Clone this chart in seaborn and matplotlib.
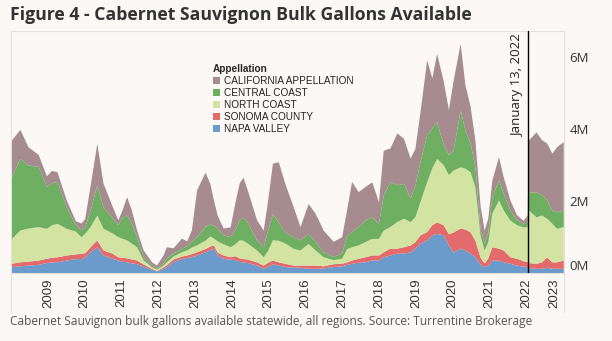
import matplotlib
matplotlib.use("Agg")
import matplotlib.pyplot as plt
import matplotlib.transforms as mtransforms
import seaborn as sns
import numpy as np

# ---- data (millions of gallons) ----
years = [2008.01, 2008.24, 2008.46, 2008.74, 2008.96, 2009.10, 2009.25, 2009.50, 2009.75, 2009.90,
         2010.00, 2010.15, 2010.33, 2010.50, 2010.75, 2010.90, 2011.00, 2011.14, 2011.27, 2011.41,
         2011.59, 2011.82, 2011.95, 2012.13, 2012.22, 2012.40, 2012.63, 2012.77, 2012.90, 2013.04,
         2013.27, 2013.40, 2013.50, 2013.60, 2013.76, 2013.95, 2014.08, 2014.20, 2014.30, 2014.42,
         2014.67, 2014.85, 2014.97, 2015.10, 2015.26, 2015.44, 2015.67, 2015.85, 2016.07, 2016.26,
         2016.48, 2016.75, 2016.98, 2017.12, 2017.25, 2017.43, 2017.61, 2017.80, 2017.98, 2018.11,
         2018.29, 2018.48, 2018.66, 2018.84, 2018.97, 2019.11, 2019.29, 2019.43, 2019.56, 2019.74,
         2019.88, 2020.01, 2020.20, 2020.33, 2020.47, 2020.60, 2020.74, 2020.85, 2020.95, 2021.06,
         2021.24, 2021.37, 2021.55, 2021.73, 2021.91, 2022.02, 2022.05, 2022.26, 2022.41, 2022.55,
         2022.69, 2022.82, 2023.00]

napa_valley = [0.18, 0.20, 0.22, 0.24, 0.29, 0.31, 0.31, 0.36, 0.40, 0.40,
               0.45, 0.59, 0.73, 0.50, 0.41, 0.36, 0.33, 0.31, 0.28, 0.26,
               0.19, 0.10, 0.06, 0.13, 0.17, 0.32, 0.40, 0.43, 0.45, 0.50,
               0.59, 0.65, 0.69, 0.50, 0.41, 0.38, 0.38, 0.32, 0.31, 0.29,
               0.22, 0.13, 0.19, 0.25, 0.22, 0.18, 0.16, 0.16, 0.13, 0.13,
               0.14, 0.18, 0.20, 0.24, 0.27, 0.30, 0.31, 0.36, 0.36, 0.45,
               0.50, 0.55, 0.55, 0.59, 0.69, 0.83, 0.92, 1.06, 1.10, 1.06,
               0.78, 0.58, 0.69, 0.64, 0.55, 0.45, 0.25, 0.18, 0.21, 0.36,
               0.36, 0.31, 0.27, 0.22, 0.19, 0.18, 0.14, 0.13, 0.13, 0.16,
               0.13, 0.13, 0.13]

sonoma_county = [0.09, 0.11, 0.11, 0.12, 0.12, 0.13, 0.14, 0.14, 0.13, 0.15,
                 0.11, 0.14, 0.19, 0.14, 0.14, 0.09, 0.11, 0.11, 0.11, 0.10,
                 0.06, 0.03, 0.01, 0.04, 0.06, 0.07, 0.07, 0.07, 0.09, 0.09,
                 0.09, 0.10, 0.09, 0.08, 0.09, 0.07, 0.10, 0.10, 0.09, 0.10,
                 0.09, 0.09, 0.11, 0.11, 0.09, 0.09, 0.06, 0.06, 0.09, 0.09,
                 0.06, 0.08, 0.07, 0.07, 0.09, 0.11, 0.14, 0.14, 0.14, 0.14,
                 0.19, 0.14, 0.18, 0.19, 0.18, 0.23, 0.23, 0.28, 0.32, 0.28,
                 0.31, 0.56, 0.56, 0.58, 0.59, 0.46, 0.19, 0.10, 0.21, 0.37,
                 0.33, 0.33, 0.18, 0.19, 0.15, 0.14, 0.15, 0.14, 0.18, 0.29,
                 0.18, 0.18, 0.23]

north_coast = [0.69, 0.88, 0.92, 0.93, 0.83, 0.90, 0.93, 0.74, 0.63, 0.46,
               0.54, 0.56, 0.69, 0.60, 0.56, 0.56, 0.53, 0.50, 0.44, 0.37,
               0.11, 0.04, 0.04, 0.05, 0.08, 0.08, 0.12, 0.14, 0.18, 0.19,
               0.23, 0.28, 0.19, 0.31, 0.31, 0.28, 0.33, 0.50, 0.51, 0.44,
               0.33, 0.23, 0.33, 0.56, 0.60, 0.56, 0.46, 0.42, 0.60, 0.42,
               0.25, 0.11, 0.14, 0.37, 0.37, 0.37, 0.42, 0.46, 0.46, 0.60,
               0.60, 0.74, 0.79, 0.65, 0.69, 0.93, 1.39, 1.58, 1.76, 1.67,
               1.64, 1.72, 1.70, 1.69, 1.67, 1.48, 0.61, 0.36, 0.44, 0.93,
               1.34, 1.11, 1.02, 0.93, 0.94, 0.97, 1.46, 1.29, 1.30, 1.07,
               1.07, 0.93, 0.93]

central_coast = [1.71, 1.99, 1.75, 1.67, 1.16, 1.17, 1.16, 0.60, 0.18, 0.19,
                 0.18, 0.46, 0.83, 0.60, 0.42, 0.33, 0.56, 0.69, 0.55, 0.28,
                 0.09, 0.05, 0.03, 0.06, 0.11, 0.08, 0.10, 0.11, 0.17, 0.23,
                 0.39, 0.33, 0.36, 0.36, 0.25, 0.28, 0.39, 0.56, 0.64, 0.58,
                 0.28, 0.28, 0.56, 0.74, 0.50, 0.31, 0.32, 0.28, 0.28, 0.23,
                 0.14, 0.09, 0.14, 0.37, 0.42, 0.51, 0.60, 0.60, 0.42, 0.97,
                 1.25, 1.02, 0.97, 0.65, 0.88, 1.11, 1.30, 1.11, 1.02, 0.56,
                 0.56, 0.56, 1.58, 1.06, 0.80, 0.56, 0.19, 0.19, 0.28, 0.46,
                 0.56, 0.46, 0.28, 0.14, 0.09, 0.14, 0.50, 0.69, 0.56, 0.51,
                 0.37, 0.46, 0.46]

california_appellation = [1.02, 0.81, 0.51, 0.33, 0.30, 0.34, 0.27, 0.19, 0.11, 0.19,
                          0.23, 0.69, 1.16, 0.65, 0.32, 0.14, 0.18, 0.51, 0.37, 0.19,
                          0.19, 0.09, 0.08, 0.22, 0.31, 0.15, 0.28, 0.14, 0.31, 1.30,
                          1.50, 1.13, 0.69, 0.36, 0.19, 0.27, 0.75, 1.03, 1.11, 0.89,
                          0.56, 0.46, 0.83, 1.39, 1.68, 1.34, 0.83, 0.37, 0.83, 0.79,
                          0.60, 0.42, 0.46, 0.74, 1.39, 0.97, 0.93, 0.97, 0.60, 1.25,
                          0.93, 1.44, 1.25, 1.11, 1.02, 1.39, 2.08, 1.39, 1.90, 1.76,
                          1.25, 1.94, 1.85, 1.25, 1.02, 0.74, 0.64, 0.36, 0.39, 0.46,
                          0.64, 0.46, 0.28, 0.14, 0.09, 0.19, 1.44, 1.67, 1.53, 1.58,
                          1.58, 1.81, 1.90]

appellations = ["NAPA VALLEY", "SONOMA COUNTY", "NORTH COAST", "CENTRAL COAST", "CALIFORNIA APPELLATION"]
year_ticks = list(range(2009, 2024))
y_ticks = [0, 2, 4, 6]
y_tick_labels = ["0M", "2M", "4M", "6M"]
event_year = 2022.033  # January 13, 2022
event_label = "January 13, 2022"
title = "Figure 4 - Cabernet Sauvignon Bulk Gallons Available"
caption = "Cabernet Sauvignon bulk gallons available statewide, all regions. Source: Turrentine Brokerage"

colors = ["#6b9bcb", "#e46b6c", "#d3e3a2", "#6eaf62", "#a68c8e"]
bg = "#fbf8f5"

sns.set_theme(style="white")
plt.rcParams["font.family"] = ["Open Sans", "DejaVu Sans"]

fig = plt.figure(figsize=(6.12, 3.41), dpi=100, facecolor=bg)
ax = fig.add_axes([11 / 612, 1 - 273 / 341, (564 - 11) / 612, (273 - 31) / 341])
ax.set_facecolor(bg)

series = [napa_valley, sonoma_county, north_coast, central_coast, california_appellation]
polys = ax.stackplot(years, *series, colors=colors, labels=appellations, linewidth=0)

ax.set_xlim(2008.0, 2023.02)
ax.set_ylim(0, 6.72)

ax.axvline(event_year, color="black", lw=1.0, zorder=5)
ax.annotate(event_label, xy=(event_year, 1.0), xycoords=("data", "axes fraction"),
            xytext=(-2.5, -2), textcoords="offset points", rotation=90,
            ha="right", va="top", fontsize=9.5, color="#222222")

# axes styling
for side in ["left", "top", "right", "bottom"]:
    ax.spines[side].set_color("#e4e0dc")
    ax.spines[side].set_linewidth(0.8)

# pane borders extending through the date header
for xf in [11 / 612, 564 / 612]:
    fig.add_artist(plt.Line2D([xf, xf], [1 - 312 / 341, 1 - 273 / 341], transform=fig.transFigure,
                              color="#e4e0dc", lw=0.8))

ax.set_xticks(year_ticks)
ax.set_xticklabels([str(y) for y in year_ticks], rotation=90, fontsize=9.5, color="#333333",
                   family=["Liberation Sans", "DejaVu Sans"])
ax.tick_params(axis="x", length=0, pad=4)
xl = ax.get_xticklabels()
xl[-1].set_transform(xl[-1].get_transform() + mtransforms.ScaledTranslation(-9 / 100, 0, fig.dpi_scale_trans))

ax.yaxis.tick_right()
ax.set_yticks(y_ticks)
ax.set_yticklabels(y_tick_labels, fontsize=9.5, color="#333333", family=["Open Sans", "DejaVu Sans"])
ax.tick_params(axis="y", length=0, pad=4)
ax.get_yticklabels()[0].set_va("bottom")

handles = list(polys)[::-1]
labels = appellations[::-1]
leg = fig.legend(handles, labels, title="Appellation", loc="upper left",
                 bbox_to_anchor=(213 / 612, 1 - 64 / 341), frameon=False,
                 prop={"family": ["Liberation Sans", "DejaVu Sans"], "size": 7.2},
                 title_fontproperties={"family": ["Liberation Sans", "DejaVu Sans"], "size": 7.2, "weight": "bold"},
                 handlelength=0.7, handleheight=0.7, handletextpad=0.4, labelspacing=0.2,
                 borderpad=0, borderaxespad=0)
leg._legend_box.align = "left"
for t in leg.get_texts():
    t.set_color("#222222")

fig.text(10 / 612, 1 - 15 / 341, title, fontsize=12.7, fontweight="bold", color="#333333",
         ha="left", va="center")
fig.text(10 / 612, 1 - 321 / 341, caption, fontsize=8.6, color="#555555", ha="left", va="center")

fig.savefig("out.png", dpi=100, facecolor=bg)
